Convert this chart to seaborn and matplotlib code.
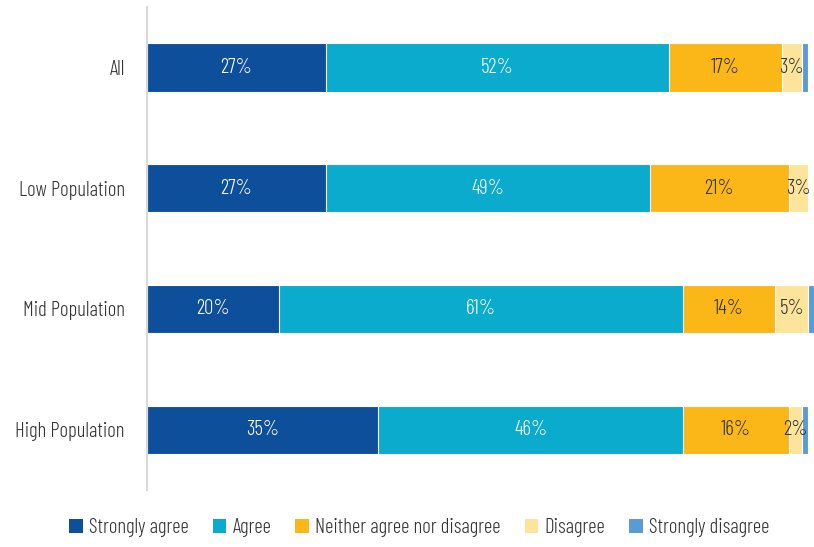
import numpy as np
import pandas as pd
import matplotlib
matplotlib.use("Agg")
import matplotlib.pyplot as plt
import seaborn as sns
from matplotlib.patches import Patch
from matplotlib import font_manager as fm

groups = ["All", "Low Population", "Mid Population", "High Population"]
responses = ["Strongly agree", "Agree", "Neither agree nor disagree",
             "Disagree", "Strongly disagree"]
strongly_agree = [27, 27, 20, 35]
agree = [52, 49, 61, 46]
neither = [17, 21, 14, 16]
disagree = [3, 3, 5, 2]
strongly_disagree = [1, 0, 1, 1]

colors = ["#0E4F9C", "#0BABCD", "#FBB617", "#FCE59B", "#5B9BD5"]
label_colors = ["white", "white", "#333333", "#333333", "#333333"]

sns.set_theme(style="white")
installed = {f.name for f in fm.fontManager.ttflist}
preferred = ["Barlow Condensed", "Saira Extra Condensed", "Roboto Condensed",
             "Liberation Sans Narrow"]
families = [f for f in preferred if f in installed][:1] + ["DejaVu Sans"]
plt.rcParams["font.family"] = families
plt.rcParams["font.weight"] = 300

series = [strongly_agree, agree, neither, disagree, strongly_disagree]
df = pd.DataFrame({"group": groups})
for name, vals in zip(responses, series):
    df[name] = vals
cum = df[responses].cumsum(axis=1)

fig, ax = plt.subplots(figsize=(8.14, 5.47), dpi=100)
fig.subplots_adjust(left=0.1806, right=1.0012, top=0.987, bottom=0.104)

# draw cumulative totals from the outermost segment inwards
for name, color in reversed(list(zip(responses, colors))):
    sns.barplot(x=cum[name], y=df["group"], orient="h", color=color,
                width=0.4, saturation=1, edgecolor="white", linewidth=0.8,
                ax=ax)

for i in range(len(groups)):
    left = 0
    for name, tc in zip(responses, label_colors):
        v = df.loc[i, name]
        if v >= 2:
            ax.text(left + v / 2, i, f"{v}%", ha="center", va="center",
                    color=tc, fontsize=15)
        left += v

ax.set_xlim(0, cum[responses[-1]].max())
ax.set_ylim(3.5, -0.5)
ax.set_xlabel("")
ax.set_ylabel("")
ax.set_xticks([])
ax.tick_params(axis="y", labelsize=15, labelcolor="#333333", length=0, pad=16)
for s in ["top", "right", "bottom"]:
    ax.spines[s].set_visible(False)
ax.spines["left"].set_color("#D9D9D9")
ax.spines["left"].set_linewidth(1.5)

handles = [Patch(facecolor=c, edgecolor="none", label=r)
           for r, c in zip(responses, colors)]
fig.legend(handles=handles, loc="center", bbox_to_anchor=(0.515, 0.035),
           ncol=5, frameon=False, fontsize=15, handlelength=0.65,
           handleheight=0.7, handletextpad=0.3, columnspacing=1.15,
           labelcolor="#333333")

fig.savefig("out.png", dpi=100)
